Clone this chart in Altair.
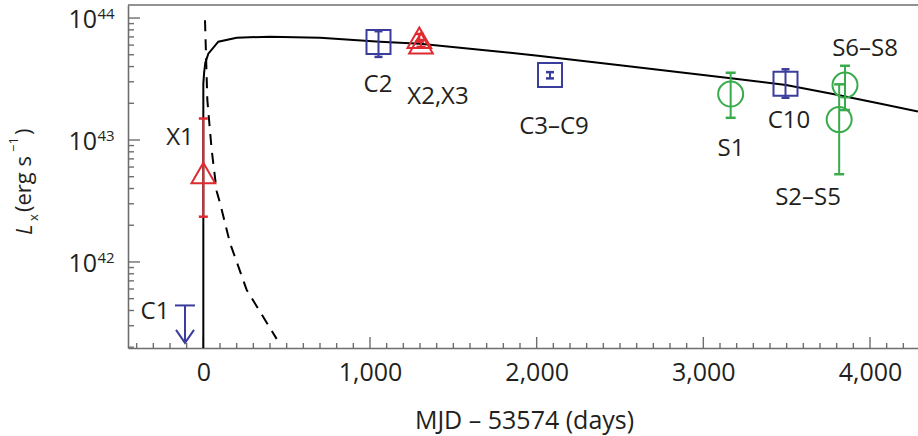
import altair as alt
import pandas as pd

FONT = "Open Sans"
BLUE = "#3b3d9d"
RED = "#df2a2f"
GREEN = "#3aab4c"
AXIS_GRAY = "#6e6e6e"
TEXT = "#231f20"

W, H = 790, 343

# ---------------- data ----------------
# model light curve (solid) and decay (dashed): days since MJD 53574, erg/s
solid_t = [0, 0, 5, 12, 30, 90, 200, 400, 700, 1060, 1300, 1780, 2008, 2500, 3178, 3496, 3778, 4050, 4288]
solid_L = [1e41, 2.9e43, 3.6e43, 4.3e43, 5.1e43, 6.4e43, 6.9e43, 7.03e43, 6.9e43, 6.4e43, 6.15e43,
           5.3e43, 4.9e43, 4.1e43, 3.2e43, 2.83e43, 2.38e43, 2.0e43, 1.71e43]
dash_t = [10, 24, 50, 80, 100, 160, 260, 440]
dash_L = [9.6e43, 2.13e43, 8.3e42, 3.8e42, 3.05e42, 1.43e42, 5.9e41, 2.34e41]

# Chandra (blue squares)
chandra_t = [1051, 2080, 3493]
chandra_L = [6.36e43, 3.41e43, 2.89e43]
chandra_lo = [4.8e43, 3.2e43, 2.22e43]
chandra_hi = [7.8e43, 3.6e43, 3.8e43]

# XMM (red triangles)
xmm_t = [0, 1296, 1306]
xmm_L = [5.37e42, 6.9e43, 6.2e43]
xmm_lo = [2.35e42, 6.4e43, 5.8e43]
xmm_hi = [1.5e43, 7.4e43, 6.6e43]

# Swift (green circles)
swift_t = [3164, 3815, 3850]
swift_L = [2.38e43, 1.47e43, 2.82e43]
swift_lo = [1.52e43, 5.24e42, 1.76e43]
swift_hi = [3.56e43, 2.86e43, 4.06e43]

# C1 upper limit
c1_t = [-110]
c1_limit = [4.4e41]
c1_tip = [2.17e41]

label_text = ["C1", "X1", "C2", "X2,X3", "C3–C9", "S1", "C10", "S2–S5", "S6–S8"]
label_t = [-290, -140, 1048, 1408, 2104, 3166, 3514, 3628, 3970]
label_L = [3.89e41, 1.04e43, 2.82e43, 2.25e43, 1.28e43, 8.43e42, 1.43e43, 3.35e42, 5.57e43]

x_ticks_major = [0, 1000, 2000, 3000, 4000]
x_ticks_minor = [t for t in range(-400, 4300, 100) if t % 1000 != 0]
y_ticks_major = [1e42, 1e43, 1e44]
y_ticks_minor = [k * 10.0 ** n for n in (41, 42, 43) for k in range(2, 10)]
y_label_vals = [1e42, 1e43, 1e44]
y_label_exp = ["42", "43", "44"]

# ---------------- scales / axes ----------------
xs = alt.Scale(domain=[-452, 4288], nice=False, zero=False)
ys = alt.Scale(type="log", domain=[1.97e41, 1.279e44], nice=False)

xaxis = alt.Axis(values=x_ticks_major, format=",d", ticks=False, grid=False,
                 domainColor=AXIS_GRAY, domainWidth=1.6,
                 labelFont=FONT, labelFontSize=25, labelColor=TEXT, labelPadding=12,
                 labelFlush=False,
                 title="MJD – 53574 (days)", titleFont=FONT, titleFontSize=25,
                 titleFontWeight="normal", titleColor=TEXT, titleX=396, titleY=80,
                 titleBaseline="alphabetic", titleAlign="center")
yaxis = alt.Axis(labels=False, ticks=False, grid=False, domainColor=AXIS_GRAY,
                 domainWidth=1.6, title=None)


def X(field="t"):
    return alt.X(field, type="quantitative", scale=xs, axis=xaxis)


def Y(field="L"):
    return alt.Y(field, type="quantitative", scale=ys, axis=yaxis)


layers = []

# custom inward ticks
layers.append(alt.Chart(pd.DataFrame({"t": x_ticks_minor})).mark_rule(color=AXIS_GRAY, strokeWidth=1.4)
              .encode(x=X(), y=alt.value(H), y2=alt.value(H - 5)))
layers.append(alt.Chart(pd.DataFrame({"t": x_ticks_major})).mark_rule(color=AXIS_GRAY, strokeWidth=1.4)
              .encode(x=X(), y=alt.value(H), y2=alt.value(H - 11)))
layers.append(alt.Chart(pd.DataFrame({"L": y_ticks_minor})).mark_rule(color=AXIS_GRAY, strokeWidth=1.4)
              .encode(y=Y(), x=alt.value(0), x2=alt.value(6)))
layers.append(alt.Chart(pd.DataFrame({"L": y_ticks_major})).mark_rule(color=AXIS_GRAY, strokeWidth=1.4)
              .encode(y=Y(), x=alt.value(0), x2=alt.value(12)))
# top frame line
layers.append(alt.Chart(pd.DataFrame({"t": [0]})).mark_rule(color=AXIS_GRAY, strokeWidth=1.6)
              .encode(x=alt.value(0), x2=alt.value(W), y=alt.value(0)))

# model curves
solid = pd.DataFrame({"t": solid_t, "L": solid_L, "i": list(range(len(solid_t)))})
layers.append(alt.Chart(solid).mark_line(color="black", strokeWidth=2, clip=True)
              .encode(x=X(), y=Y(), order=alt.Order("i:Q")))
dash = pd.DataFrame({"t": dash_t, "L": dash_L})
layers.append(alt.Chart(dash).mark_line(color="black", strokeWidth=2, strokeDash=[11, 8], clip=True)
              .encode(x=X(), y=Y()))


def group_layers(t, L, lo, hi, color, shape, size, cap):
    df = pd.DataFrame({"t": t, "L": L, "lo": lo, "hi": hi})
    caps = pd.DataFrame({"t": t + t, "L": lo + hi})
    out = [
        alt.Chart(df).mark_rule(color=color, strokeWidth=2).encode(x=X(), y=Y("lo"), y2=alt.Y2("hi")),
        alt.Chart(caps).mark_tick(color=color, orient="horizontal", size=cap, thickness=2.5, opacity=1)
        .encode(x=X(), y=Y()),
        alt.Chart(df).mark_point(shape=shape, size=size, filled=False, strokeWidth=2, color=color, opacity=1)
        .encode(x=X(), y=Y()),
    ]
    return out


layers += group_layers(chandra_t, chandra_L, chandra_lo, chandra_hi, BLUE, "square", 576, 8)
layers += group_layers(xmm_t, xmm_L, xmm_lo, xmm_hi, RED, "triangle-up", 560, 9)
layers += group_layers(swift_t, swift_L, swift_lo, swift_hi, GREEN, "circle", 625, 10)

# C1 upper limit arrow
c1 = pd.DataFrame({"t": c1_t, "L": c1_limit, "tip": c1_tip})
layers.append(alt.Chart(c1).mark_rule(color=BLUE, strokeWidth=2).encode(x=X(), y=Y("L"), y2=alt.Y2("tip")))
layers.append(alt.Chart(c1).mark_tick(color=BLUE, orient="horizontal", size=20, thickness=2, opacity=1)
              .encode(x=X(), y=Y("L")))
layers.append(alt.Chart(c1).mark_point(shape="M-1,-1.45L0,0L1,-1.45", size=324, filled=False,
                                       strokeWidth=2, color=BLUE, opacity=1)
              .encode(x=X(), y=Y("tip")))

# point labels
labels = pd.DataFrame({"t": label_t, "L": label_L, "txt": label_text})
layers.append(alt.Chart(labels).mark_text(font=FONT, fontSize=24, color=TEXT, align="center", baseline="middle")
              .encode(x=X(), y=Y(), text="txt:N"))

# y tick labels 10^n
ylab = pd.DataFrame({"L": y_label_vals, "e": y_label_exp})
layers.append(alt.Chart(ylab).mark_text(font=FONT, fontSize=25, color=TEXT, align="right",
                                        baseline="alphabetic", dy=10)
              .encode(y=Y(), x=alt.value(-31), text=alt.value("10")))
layers.append(alt.Chart(ylab).mark_text(font=FONT, fontSize=15, color=TEXT, align="left",
                                        baseline="alphabetic", dy=1)
              .encode(y=Y(), x=alt.value(-30.5), text="e:N"))

# y axis title pieces: (text, start y, baseline x, size, style) in page pixels
title_parts = [
    ("L", 235, 32, 22, "italic"),
    ("x", 221, 38, 13, "normal"),
    ("(erg s", 212, 31, 22, "normal"),
    ("\u22121", 152, 18, 13, "normal"),
    (")", 135, 31, 22, "normal"),
]
for txt, sy, bx, fs, st in title_parts:
    layers.append(alt.Chart(pd.DataFrame({"a": [0]})).mark_text(
        font=FONT, fontSize=fs, fontStyle=st, color=TEXT, angle=270, align="left", baseline="alphabetic")
        .encode(x=alt.value(bx - 128), y=alt.value(sy - 5), text=alt.value(txt)))

chart = alt.layer(*layers).properties(
    width=W, height=H,
    autosize=alt.AutoSizeParams(type="none"),
    padding={"left": 128, "top": 5, "right": 0, "bottom": 88},
    background="white",
).configure_view(strokeWidth=0)

chart.save("out.html", embed_options={"renderer": "svg", "actions": False})
